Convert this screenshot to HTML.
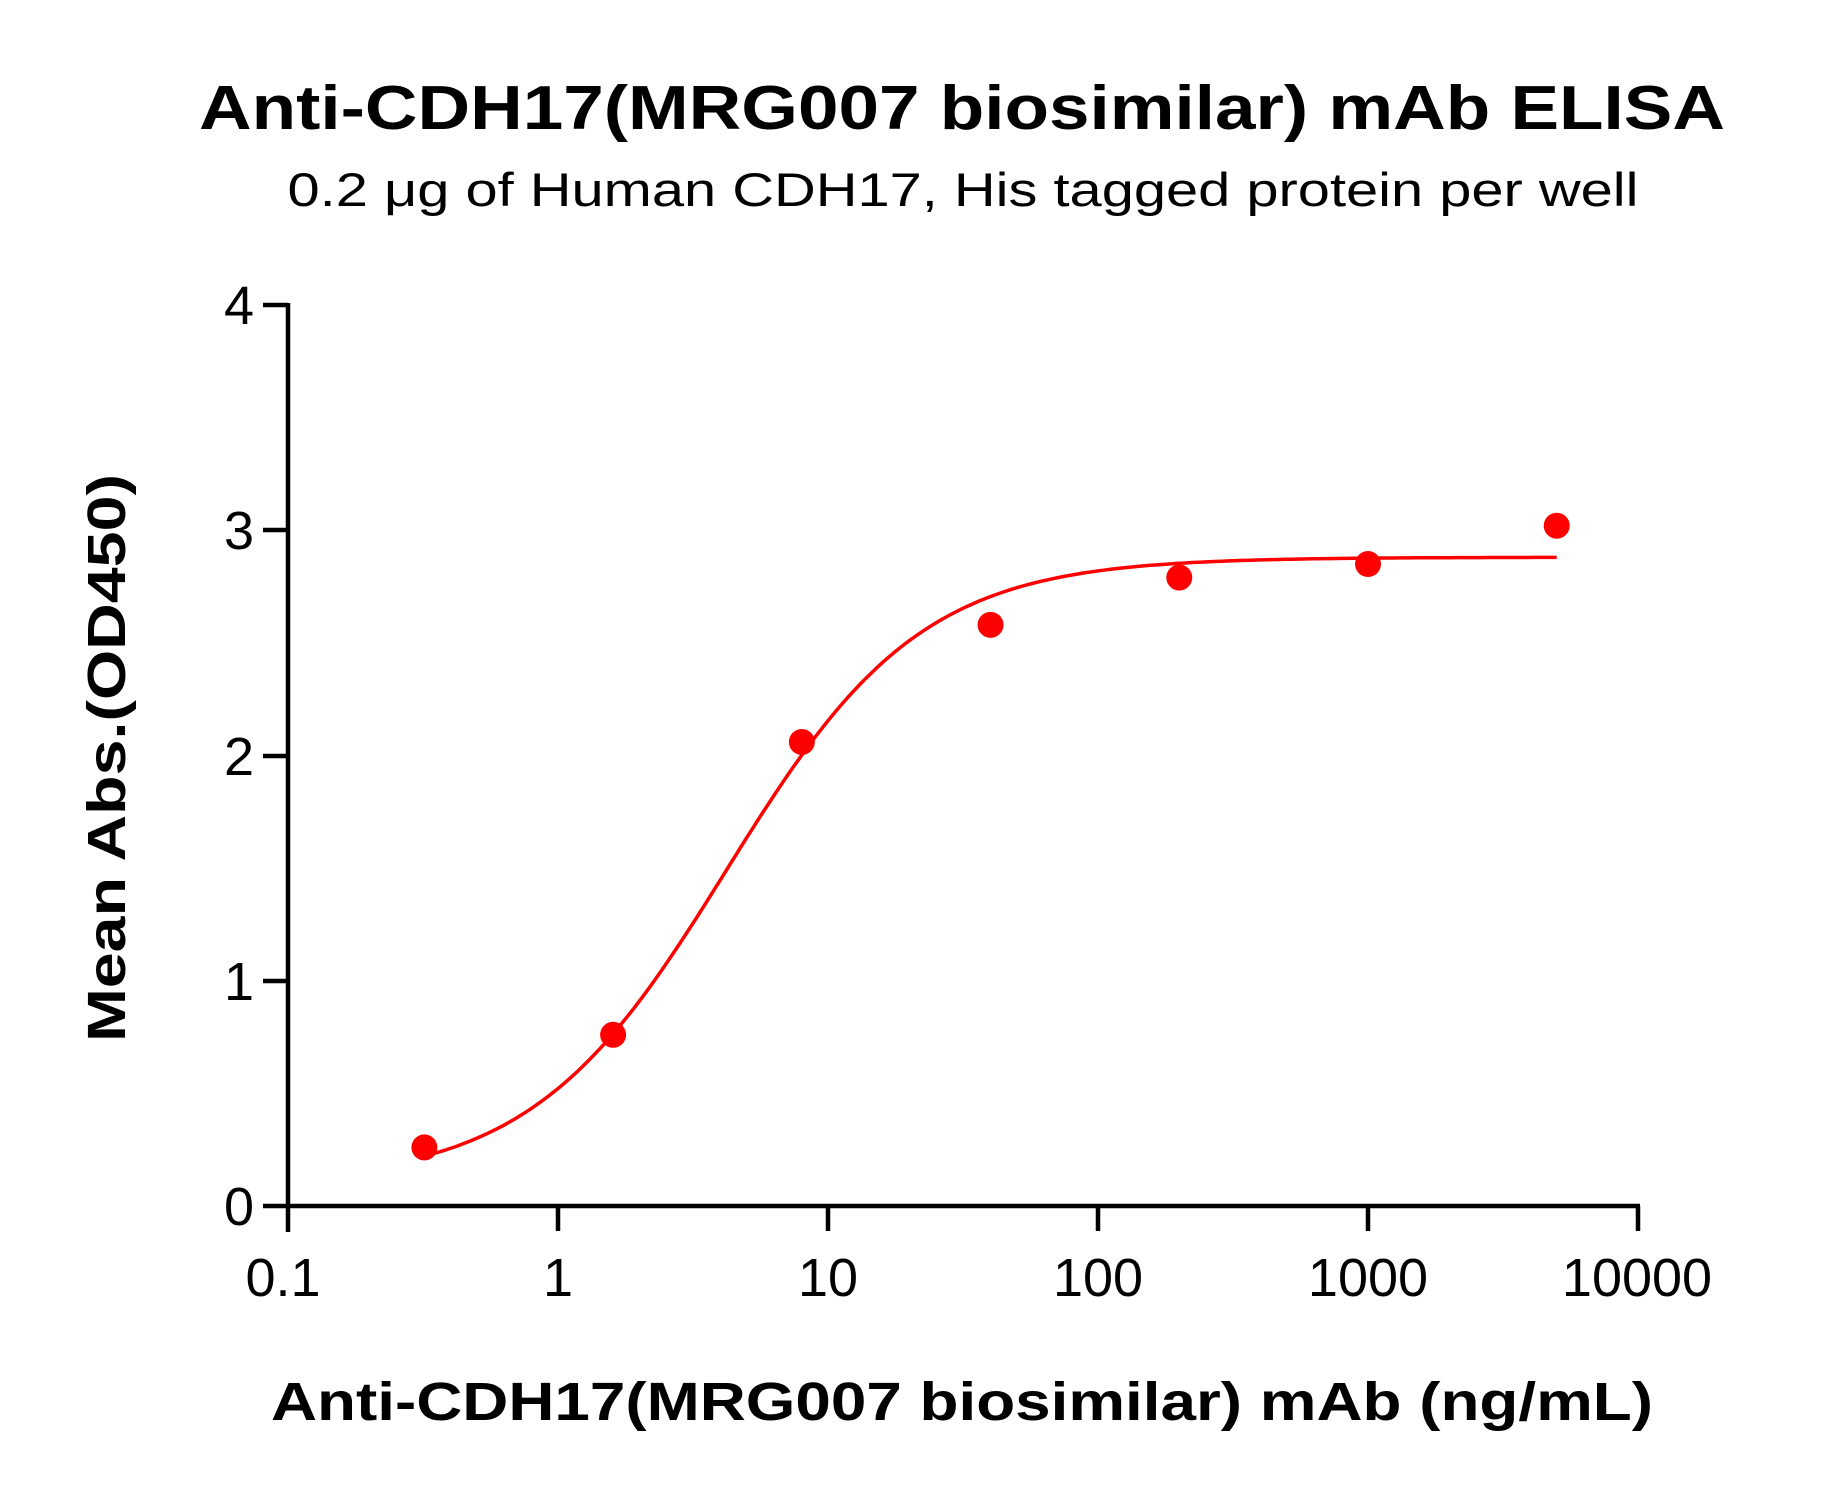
<!DOCTYPE html>
<html><head><meta charset="utf-8"><style>
html,body{margin:0;padding:0;background:#fff;}
svg{display:block;font-family:"Liberation Sans",Arial,sans-serif;}
</style></head><body>
<svg id="s" width="1826" height="1495" viewBox="0 0 1826 1495" xmlns="http://www.w3.org/2000/svg">
<text x="962" y="129" text-anchor="middle" font-size="62" font-weight="bold" textLength="1526" lengthAdjust="spacingAndGlyphs">Anti-CDH17(MRG007 biosimilar) mAb ELISA</text>
<text x="963" y="206" text-anchor="middle" font-size="47" textLength="1351" lengthAdjust="spacingAndGlyphs">0.2 μg of Human CDH17, His tagged protein per well</text>
<g stroke="#000" stroke-width="4.5" fill="none">
<line x1="288" y1="303" x2="288" y2="1232"/>
<line x1="263" y1="1206" x2="1640" y2="1206"/>
<line x1="263" y1="305" x2="288" y2="305"/>
<line x1="263" y1="530" x2="288" y2="530"/>
<line x1="263" y1="756" x2="288" y2="756"/>
<line x1="263" y1="981" x2="288" y2="981"/>
<line x1="558" y1="1206" x2="558" y2="1231"/>
<line x1="828" y1="1206" x2="828" y2="1231"/>
<line x1="1098" y1="1206" x2="1098" y2="1231"/>
<line x1="1368" y1="1206" x2="1368" y2="1231"/>
<line x1="1638" y1="1206" x2="1638" y2="1231"/>
</g>
<g font-size="54" text-anchor="end">
<text x="254" y="324">4</text>
<text x="254" y="549">3</text>
<text x="254" y="775">2</text>
<text x="254" y="1000">1</text>
<text x="254" y="1225">0</text>
</g>
<g font-size="54" text-anchor="middle">
<text x="283" y="1296">0.1</text>
<text x="558" y="1296">1</text>
<text x="828" y="1296">10</text>
<text x="1098" y="1296">100</text>
<text x="1368" y="1296">1000</text>
<text x="1637" y="1296">10000</text>
</g>
<text x="962" y="1420" text-anchor="middle" font-size="54" font-weight="bold" textLength="1382" lengthAdjust="spacingAndGlyphs">Anti-CDH17(MRG007 biosimilar) mAb (ng/mL)</text>
<text transform="translate(125,758) rotate(-90)" text-anchor="middle" font-size="54" font-weight="bold" textLength="568" lengthAdjust="spacingAndGlyphs">Mean Abs.(OD450)</text>
<path id="curve" fill="none" stroke="#f00" stroke-width="3.5"/>
<g id="pts" fill="#f00"></g>
</svg>
<script>
function X(v){return 288+270*(Math.log10(v)+1);}
function Y(v){return 1206-225.25*v;}
function f(x){return 0.1+2.78/(1+Math.pow(4.2/x,1.2));}
var d="";for(var i=0;i<=200;i++){var lx=Math.log10(0.32)+i*(Math.log10(5000)-Math.log10(0.32))/200;var x=Math.pow(10,lx);d+=(i?"L":"M")+X(x).toFixed(1)+" "+Y(f(x)).toFixed(1);}
document.getElementById("curve").setAttribute("d",d);
var P=[[0.32,0.26],[1.6,0.76],[8,2.06],[40,2.58],[200,2.79],[1000,2.85],[5000,3.02]];
var g=document.getElementById("pts");
P.forEach(function(p){var c=document.createElementNS("http://www.w3.org/2000/svg","circle");c.setAttribute("cx",X(p[0]));c.setAttribute("cy",Y(p[1]));c.setAttribute("r",13);g.appendChild(c);});
</script>
</body></html>
